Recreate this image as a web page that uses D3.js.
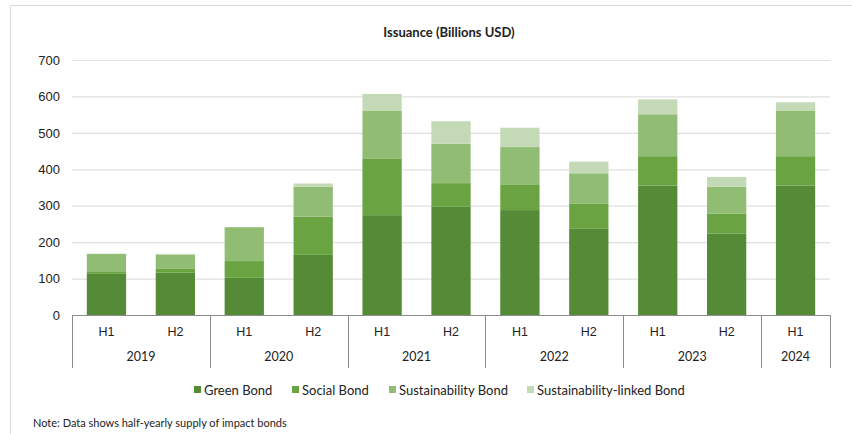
<!DOCTYPE html>
<html>
<head>
<meta charset="utf-8">
<script src="https://cdn.jsdelivr.net/npm/d3@7"></script>
<style>
  body { margin: 0; background: #fff; }
  svg { display: block; font-family: Lato, 'Open Sans', sans-serif; }
</style>
</head>
<body>
<svg width="852" height="434"></svg>
<script>
'use strict'

const halves = ['H1', 'H2', 'H1', 'H2', 'H1', 'H2', 'H1', 'H2', 'H1', 'H2', 'H1']
const years = ['2019', '2019', '2020', '2020', '2021', '2021', '2022', '2022', '2023', '2023', '2024']
const seriesNames = ['Green Bond', 'Social Bond', 'Sustainability Bond', 'Sustainability-linked Bond']
const greenBond = [113, 116, 102, 165, 274, 297, 288, 238, 355, 224, 355]
const socialBond = [7, 12, 46, 105, 156, 65, 69, 67, 81, 54, 81]
const sustainabilityBond = [48, 37, 93, 82, 130, 108, 104, 84, 115, 74, 124]
const linkedBond = [0, 3, 0, 9, 47, 62, 53, 32, 41, 27, 24]
const yTicks = [0, 100, 200, 300, 400, 500, 600, 700]
const colors = ['#558a36', '#6aa442', '#90bc73', '#c4dab6']

const svg = d3.select('svg')

const plotLeft = 72
const plotRight = 830
const plotTop = 60
const plotBottom = 315

const rows = halves.map((h, i) => ({
  key: i,
  half: h,
  year: years[i],
  'Green Bond': greenBond[i],
  'Social Bond': socialBond[i],
  'Sustainability Bond': sustainabilityBond[i],
  'Sustainability-linked Bond': linkedBond[i]
}))

const xScale = d3.scaleBand().domain(rows.map((d) => d.key))
  .range([plotLeft, plotRight]).paddingInner(0.43).paddingOuter(0.215)
const yScale = d3.scaleLinear().domain([0, 700]).range([plotBottom, plotTop])

// frame
svg.append('path')
  .attr('d', 'M10.5,440 V5.5 H860')
  .attr('fill', 'none')
  .attr('stroke', '#d9d9d9')

svg.append('text')
  .attr('x', 449).attr('y', 37)
  .attr('text-anchor', 'middle')
  .style('font-size', '13px').style('font-weight', 'bold')
  .attr('fill', '#222')
  .text('Issuance (Billions USD)')

const yAxis = d3.axisLeft(yScale)
  .tickValues(yTicks)
  .tickSize(-(plotRight - plotLeft))
  .tickPadding(12)
const yG = svg.append('g').attr('transform', `translate(${plotLeft}, 0)`).call(yAxis)
yG.select('path.domain').remove()
yG.selectAll('g.tick line').attr('stroke', '#e0e0e0').attr('stroke-width', 1.2)
yG.selectAll('g.tick text').style('font-size', '13px').attr('fill', '#222')

const stacked = d3.stack().keys(seriesNames)(rows)

svg.append('g').selectAll('g')
  .data(stacked)
  .join('g')
  .attr('fill', (d, i) => colors[i])
  .selectAll('rect')
  .data((d) => d)
  .join('rect')
  .attr('x', (d) => xScale(d.data.key))
  .attr('width', xScale.bandwidth())
  .attr('y', (d) => yScale(d[1]))
  .attr('height', (d) => yScale(d[0]) - yScale(d[1]))

// x axis: halves
const xAxis = d3.axisBottom(xScale)
  .tickSize(0)
  .tickPadding(12)
  .tickFormat((k) => halves[k])
const xG = svg.append('g').attr('transform', `translate(0, ${plotBottom})`).call(xAxis)
xG.select('path.domain').attr('stroke', '#8c8c8c').attr('d', `M${plotLeft},0.5H${plotRight}`)
xG.selectAll('g.tick text').style('font-size', '12.5px').attr('fill', '#222')

// year groups
const step = xScale.step()
const groups = []
years.forEach((y, i) => {
  const last = groups[groups.length - 1]
  if (last && last.year === y) last.end = i
  else groups.push({ year: y, start: i, end: i })
})
const groupEdge = (i) => plotLeft + step * i
const edges = [0].concat(groups.map((g) => g.end + 1))
svg.append('g').selectAll('line')
  .data(edges)
  .join('line')
  .attr('x1', (i) => Math.round(groupEdge(i)) + 0.5)
  .attr('x2', (i) => Math.round(groupEdge(i)) + 0.5)
  .attr('y1', plotBottom)
  .attr('y2', 368)
  .attr('stroke', '#8c8c8c')

svg.append('g').selectAll('text')
  .data(groups)
  .join('text')
  .attr('x', (g) => (groupEdge(g.start) + groupEdge(g.end + 1)) / 2)
  .attr('y', 361)
  .attr('text-anchor', 'middle')
  .style('font-size', '12.5px')
  .attr('fill', '#222')
  .text((g) => g.year)

// legend
const legendX = [194, 292, 389, 527]
const legend = svg.append('g').selectAll('g')
  .data(seriesNames)
  .join('g')
  .attr('transform', (d, i) => `translate(${legendX[i]}, 390)`)
legend.append('rect')
  .attr('x', 0).attr('y', -4)
  .attr('width', 7).attr('height', 7)
  .attr('fill', (d, i) => colors[i])
legend.append('text')
  .attr('x', 10).attr('y', 0)
  .attr('dy', '0.35em')
  .style('font-size', '13px')
  .attr('fill', '#222')
  .text((d) => d)

svg.append('text')
  .attr('x', 33).attr('y', 423)
  .attr('dy', '0.35em')
  .style('font-size', '11px')
  .attr('fill', '#222')
  .text('Note: Data shows half-yearly supply of impact bonds')
</script>
</body>
</html>
